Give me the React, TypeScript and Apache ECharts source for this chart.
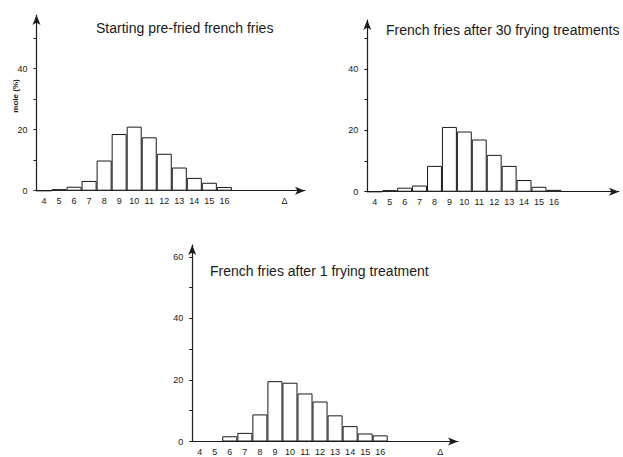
import React, { useEffect, useRef } from "react";
import * as echarts from "echarts";

// Chain-length classes on the x axis
const classes = [4, 5, 6, 7, 8, 9, 10, 11, 12, 13, 14, 15, 16];
// mole (%) per class
const startingValues = [0, 0.5, 1.3, 3.2, 9.9, 18.6, 21.0, 17.5, 12.1, 7.6, 4.2, 2.6, 1.2];
const after30Values = [0, 0.5, 1.3, 2.0, 8.4, 21.1, 19.6, 17.0, 12.0, 8.4, 3.8, 1.6, 0.6];
const after1Values = [0, 0, 1.7, 2.8, 8.8, 19.6, 19.1, 15.6, 13.0, 8.5, 5.0, 2.6, 2.0];

const titles = [
  "Starting pre-fried french fries",
  "French fries after 30 frying treatments",
  "French fries after 1 frying treatment",
];
const yTickValues = [0, 10, 20, 30, 40, 50];
const yLabelValues = [0, 20, 40];
const yTickValues3 = [0, 10, 20, 30, 40, 50, 60];
const yLabelValues3 = [0, 20, 40, 60];
const deltaPosition = 20;
const xLabelsWithDelta = [...classes, deltaPosition];
const yName = "mole (%)";

// layout (pixel geometry of each panel)
const panels = [
  { x0: 36.5, y0: 190.7, px: 15.03, py: 3.05, xEnd: 305, yTop: 15, titleX: 96, titleY: 29, data: startingValues, yTicks: yTickValues, yLabels: yLabelValues, xLabels: xLabelsWithDelta },
  { x0: 367.3, y0: 191.7, px: 14.93, py: 3.07, xEnd: 619, yTop: 20, titleX: 386, titleY: 31, data: after30Values, yTicks: yTickValues, yLabels: yLabelValues, xLabels: classes },
  { x0: 192.2, y0: 441.5, px: 15.04, py: 3.078, xEnd: 458, yTop: 245, titleX: 210, titleY: 272, data: after1Values, yTicks: yTickValues3, yLabels: yLabelValues3, xLabels: xLabelsWithDelta },
];

const ink = "#1a1a1a";
const titleFont = "'Liberation Sans Narrow', 'Liberation Sans', Arial, sans-serif";
const labelFont = "'Liberation Sans', Arial, sans-serif";

export default function App() {
  const ref = useRef<HTMLDivElement>(null);
  useEffect(() => {
    if (!ref.current) return;
    const chart = echarts.init(ref.current, undefined, { renderer: "svg" });
    const grid = panels.map((p) => ({
      left: p.x0,
      top: p.yTop,
      width: p.xEnd - p.x0,
      height: p.y0 - p.yTop,
      containLabel: false,
    }));
    const xAxis = panels.map((p, i) => ({
      type: "value",
      gridIndex: i,
      min: 3.5,
      max: 3.5 + (p.xEnd - p.x0) / p.px,
      axisLine: {
        show: true,
        onZero: false,
        symbol: ["none", "arrow"],
        symbolSize: [6, 10],
        lineStyle: { color: ink, width: 1.2 },
      },
      axisTick: { show: false },
      splitLine: { show: false },
      axisLabel: {
        customValues: p.xLabels,
        formatter: (v: number) => (v === deltaPosition ? "Δ" : String(v)),
        color: ink,
        fontSize: 9,
        fontFamily: labelFont,
        margin: 6,
        showMinLabel: true,
        showMaxLabel: true,
      },
    }));
    const yAxis = panels.map((p, i) => ({
      type: "value",
      gridIndex: i,
      min: 0,
      max: (p.y0 - p.yTop) / p.py,
      axisLine: {
        show: true,
        onZero: false,
        symbol: ["none", "arrow"],
        symbolSize: [6, 10],
        lineStyle: { color: ink, width: 1.2 },
      },
      axisTick: {
        show: true,
        inside: false,
        length: 3,
        customValues: p.yTicks,
        lineStyle: { color: ink, width: 1 },
      },
      splitLine: { show: false },
      axisLabel: {
        customValues: p.yLabels,
        color: ink,
        fontSize: 9,
        fontFamily: labelFont,
        margin: 9,
      },
    }));
    const series = panels.map((p, i) => ({
      type: "bar",
      xAxisIndex: i,
      yAxisIndex: i,
      barWidth: p.px,
      data: classes.map((c, j) => [c, p.data[j]]),
      itemStyle: { color: "#ffffff", borderColor: ink, borderWidth: 1 },
    }));
    const graphic: any[] = panels.map((p, i) => ({
      type: "text",
      left: p.titleX,
      top: p.titleY - 8,
      style: {
        text: titles[i],
        fill: ink,
        font: `14px ${titleFont}`,
      },
    }));
    graphic.push({
      type: "text",
      x: 15,
      y: 96,
      rotation: Math.PI / 2,
      style: {
        text: yName,
        fill: ink,
        font: `bold 8px ${labelFont}`,
        align: "center",
        verticalAlign: "middle",
      },
    });
    chart.setOption({
      animation: false,
      backgroundColor: "#ffffff",
      grid,
      xAxis,
      yAxis,
      series,
      graphic,
    });
    return () => chart.dispose();
  }, []);
  return (
    <div
      ref={ref}
      style={{ position: "fixed", left: 0, top: 0, width: 623, height: 457, background: "#fff" }}
    />
  );
}
